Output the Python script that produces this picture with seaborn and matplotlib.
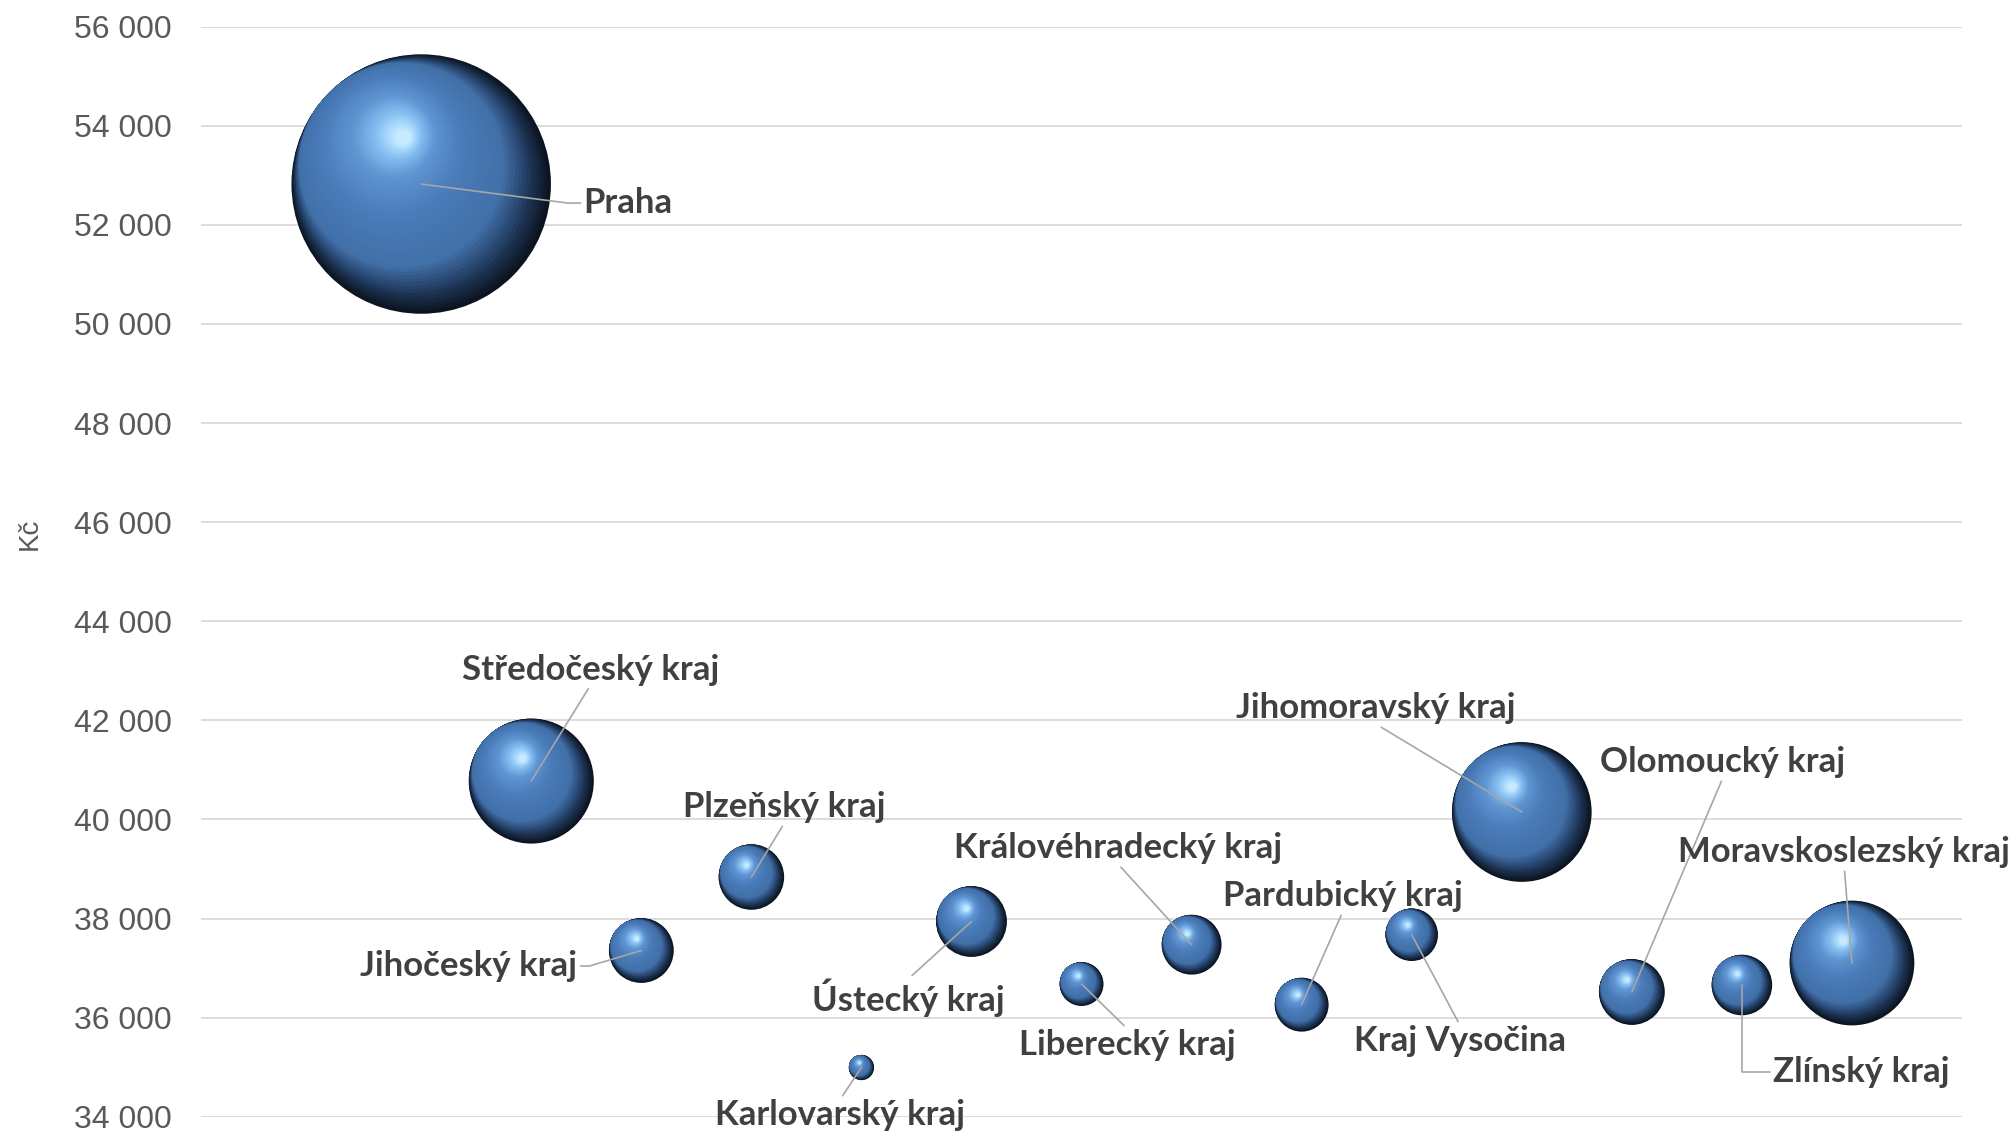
import numpy as np
import pandas as pd
import seaborn as sns
import matplotlib.pyplot as plt
from matplotlib.markers import MarkerStyle
from matplotlib.transforms import Affine2D
from matplotlib.colors import LinearSegmentedColormap
from matplotlib.ticker import FuncFormatter, MultipleLocator

# data: average wage (Kč) and bubble size (employees, thousands)
regions = ["Praha", "Středočeský kraj", "Jihočeský kraj", "Plzeňský kraj",
           "Karlovarský kraj", "Ústecký kraj", "Liberecký kraj",
           "Královéhradecký kraj", "Pardubický kraj", "Kraj Vysočina",
           "Jihomoravský kraj", "Olomoucký kraj", "Zlínský kraj",
           "Moravskoslezský kraj"]
wage = [52825, 40775, 37355, 38838, 34993, 37940, 36678,
        37472, 36261, 37673, 40150, 36517, 36658, 37102]
employees = [780, 376, 195, 197, 76, 213, 132, 180, 162, 158, 420, 198, 182, 375]

df = pd.DataFrame({"region": regions, "wage": wage, "employees": employees})
df["pos"] = np.arange(1, len(df) + 1)

# label offsets in points (dx, dy, ha, relpos, connection)
label_style = {
    "Praha": (117, -13.7, "left", (0, 0.5), "arc,angleA=180,armA=16,armB=0,rad=0"),
    "Středočeský kraj": (42.5, 80.3, "center", (0.5, 0), None),
    "Jihočeský kraj": (-46, -11.2, "right", (1, 0.5), "arc,angleA=0,armA=12,armB=0,rad=0"),
    "Plzeňský kraj": (23.8, 50.4, "center", (0.5, 0), None),
    "Karlovarský kraj": (-15.1, -34.2, "center", (0.5, 1), None),
    "Ústecký kraj": (-45.4, -55.1, "center", (0.5, 1), None),
    "Liberecký kraj": (33.1, -43.9, "center", (0.5, 1), None),
    "Královéhradecký kraj": (-53, 69.6, "center", (0.5, 0), None),
    "Pardubický kraj": (29.5, 78.3, "center", (0.5, 0), None),
    "Kraj Vysočina": (34.6, -76.5, "center", (0.5, 1), None),
    "Jihomoravský kraj": (-105.1, 74.9, "center", (0.5, 0), None),
    "Olomoucký kraj": (65.5, 165.6, "center", (0.5, 0), None),
    "Zlínský kraj": (22.5, -62.6, "left", (0, 0.5), "angle,angleA=180,angleB=90,rad=0"),
    "Moravskoslezský kraj": (-5.5, 79.9, "center", (0.5, 0), None),
}

sns.set_style("white")
plt.rcParams["font.family"] = ["Liberation Sans", "DejaVu Sans"]

fig = plt.figure(figsize=(20.15, 11.33), dpi=100)
ax = fig.add_axes([0.0998, 0.01439, 0.8739, 0.96201])

# bubble diameter in points, proportional to value
pt_per_k = 0.2395
sizes = (df["employees"] * pt_per_k) ** 2

# base sphere: dark shadow side
sns.scatterplot(data=df, x="pos", y="wage", s=sizes, color="#0b1420",
                linewidth=0, ax=ax, zorder=3, legend=False)

# glossy shading: stacked shrinking circles drifting towards the highlight
shade = LinearSegmentedColormap.from_list("sphere", [
    (0.0, "#0b1420"), (0.07, "#1a2e4a"), (0.14, "#2c4d7a"),
    (0.22, "#4170a8"), (0.5, "#4b7dbb"), (0.72, "#5f95d2"),
    (0.86, "#83bbef"), (0.95, "#a9d9fd"), (1.0, "#c6eaff")])
d0 = np.array([-0.72, 0.69])
d1 = np.array([-0.36, 0.93])
n_layers = 60
for i in range(1, n_layers):
    t = i / (n_layers - 1)
    rho = 0.5 * (1 - 0.94 * t)
    if t < 0.22:
        f, d = 1.0, d0
    else:
        u = (t - 0.22) / 0.78
        f = 1 - 0.59 * u
        d = d0 + (d1 - d0) * u
    d = d / np.hypot(*d)
    cx, cy = f * (0.5 - rho) * d
    m = MarkerStyle("o", transform=Affine2D().scale(2 * rho).translate(cx, cy))
    ax.scatter(df["pos"], df["wage"], s=sizes, marker=m, color=shade(t),
               linewidths=0, zorder=3.01 + t)

# data labels with leader lines
for _, row in df.iterrows():
    dx, dy, ha, relpos, conn = label_style[row["region"]]
    arrow = dict(arrowstyle="-", color="#a6a6a6", lw=1.2, shrinkA=0, shrinkB=0,
                 relpos=relpos)
    if conn:
        arrow["connectionstyle"] = conn
    ax.annotate(row["region"], xy=(row["pos"], row["wage"]), xytext=(dx, dy),
                textcoords="offset points", ha=ha, va="center",
                fontsize=25, fontweight="bold", family=["Lato", "DejaVu Sans"],
                color="#404040", arrowprops=arrow, zorder=10,
                annotation_clip=False)

ax.set_xlim(-1, 15)
ax.set_ylim(34000, 56000)
ax.yaxis.set_major_locator(MultipleLocator(2000))
ax.yaxis.set_major_formatter(FuncFormatter(lambda v, p: f"{v:,.0f}".replace(",", " ")))
ax.set_xticks([])
ax.grid(axis="y", color="#d9d9d9", linewidth=1.3)
ax.set_axisbelow(True)
for s in ax.spines.values():
    s.set_visible(False)
ax.tick_params(axis="y", length=0, pad=21, labelsize=23, labelcolor="#595959")
ax.set_xlabel("")
ax.set_ylabel("Kč", fontsize=20, color="#595959")
ax.yaxis.set_label_coords(-0.090, 0.535)

fig.savefig("out.png", dpi=100)
